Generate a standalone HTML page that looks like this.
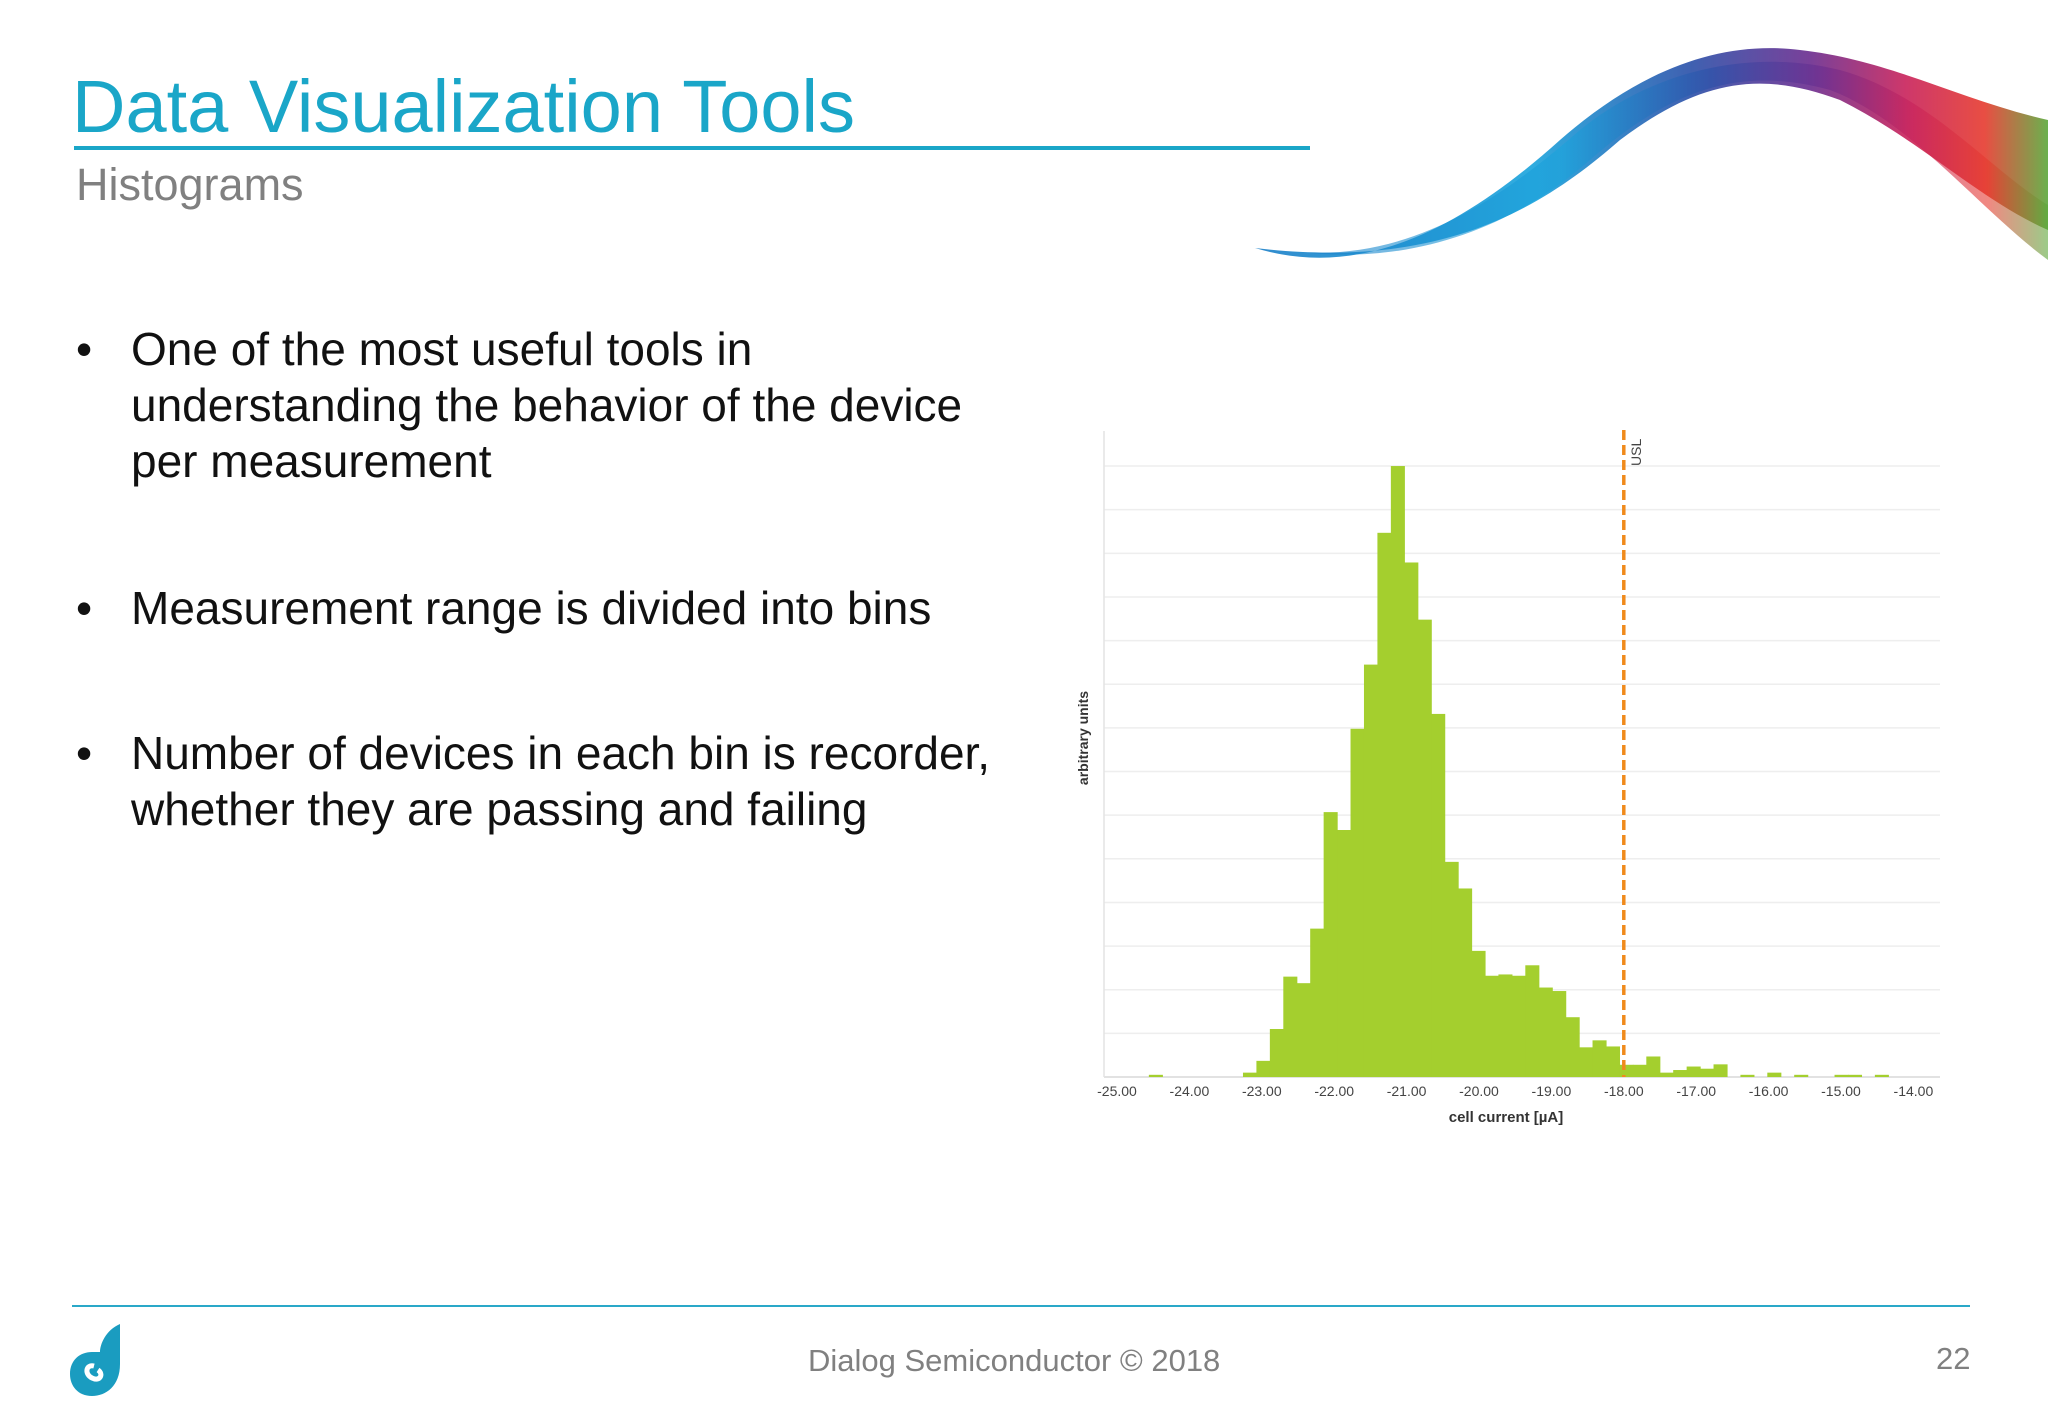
<!DOCTYPE html>
<html><head><meta charset="utf-8"><style>
html,body{margin:0;padding:0;background:#fff;}
body{width:2048px;height:1418px;position:relative;overflow:hidden;font-family:"Liberation Sans",sans-serif;}
.abs{position:absolute;white-space:nowrap;}
.bul{font-size:46px;color:#111;line-height:56px;}
</style></head><body>
<svg class="abs" style="left:1240px;top:30px" width="808" height="240" viewBox="0 0 808 240">
<defs><linearGradient id="rg" x1="0" x2="1" y1="0" y2="0">
<stop offset="0" stop-color="#1a7fc8"/><stop offset="0.35" stop-color="#19a3dc"/><stop offset="0.55" stop-color="#2a4fa8"/><stop offset="0.7" stop-color="#6a2b8e"/><stop offset="0.82" stop-color="#c8215a"/><stop offset="0.92" stop-color="#e63a2e"/><stop offset="1" stop-color="#5aa83a"/></linearGradient></defs>
<path d="M15 218 C120 250 220 200 320 110 C400 40 480 10 560 20 C650 30 720 70 808 90 L808 200 C740 170 680 110 600 70 C520 40 460 50 380 110 C300 180 200 240 15 218 Z" fill="url(#rg)" opacity="0.9"/>
<path d="M60 222 C170 230 260 170 340 100 C420 35 520 20 600 40 C690 65 750 140 808 175 L808 230 C740 180 670 90 590 60 C500 35 430 60 350 130 C270 200 170 235 60 222Z" fill="url(#rg)" opacity="0.6"/>
</svg>
<div class="abs" style="left:72px;top:64px;font-size:74px;color:#1aa6c8;">Data Visualization Tools</div>
<div class="abs" style="left:74px;top:146px;width:1236px;height:4px;background:#1aa6c8;"></div>
<div class="abs" style="left:76px;top:159px;font-size:45px;color:#808080;">Histograms</div>

<div class="abs bul" style="left:76px;top:321px;">•<span style="position:absolute;left:55px;top:0">One of the most useful tools in<br>understanding the behavior of the device<br>per measurement</span></div>
<div class="abs bul" style="left:76px;top:580px;">•<span style="position:absolute;left:55px;top:0">Measurement range is divided into bins</span></div>
<div class="abs bul" style="left:76px;top:725px;">•<span style="position:absolute;left:55px;top:0">Number of devices in each bin is recorder,<br>whether they are passing and failing</span></div>

<svg id="chart" class="abs" style="left:0;top:0" width="2048" height="1418"></svg>

<div class="abs" style="left:72px;top:1305px;width:1898px;height:2px;background:#2aa8c8;"></div>
<svg class="abs" style="left:70px;top:1324px" width="64" height="74" viewBox="0 0 64 74">
<path d="M50 0 L50 40 C50 62 36 72 22 72 C8 72 0 62 0 50 C0 36 10 28 22 28 L30 28 C30 20 36 6 50 0Z" fill="#1a9cc0"/>
<path d="M24 42 C16 40 14 50 22 54 C30 58 34 50 28 46" stroke="#fff" stroke-width="5" fill="none"/>
</svg>
<div class="abs" style="left:808px;top:1343px;font-size:31px;color:#808080;">Dialog Semiconductor © 2018</div>
<div class="abs" style="left:1936px;top:1341px;font-size:31px;color:#808080;">22</div>

<script>
const binStart = -24.56;
const binWidth = 0.1857;
const counts = [0.05,0,0,0,0,0,0,
 0.1,0.37,1.1,2.3,2.15,3.4,6.07,5.66,7.98,9.45,12.47,14.0,11.79,10.48,8.32,4.93,4.32,2.89,2.32,2.35,2.32,2.56,2.05,1.97,1.37,0.68,0.84,0.7,
 0.28,0.28,0.47,0.1,0.16,0.24,0.19,0.29,0,0.05,0,0.1,0,0.05,0,0,0.05,0.05,0,0.05];
const xTicks = [-25,-24,-23,-22,-21,-20,-19,-18,-17,-16,-15,-14];
const xTickLabels = ["-25.00","-24.00","-23.00","-22.00","-21.00","-20.00","-19.00","-18.00","-17.00","-16.00","-15.00","-14.00"];
const yGrid = [0,1,2,3,4,5,6,7,8,9,10,11,12,13,14];
const usl = [-18];

const NS="http://www.w3.org/2000/svg";
const svg=document.getElementById('chart');
const X0=1117, XS=72.4, Y0=1077, YS=43.64;
const xS=v=>X0+(v+25)*XS;
const yS=v=>Y0-v*YS;
function mk(t,a){const e=document.createElementNS(NS,t);for(const k in a)e.setAttribute(k,a[k]);svg.appendChild(e);return e;}
yGrid.forEach(g=>{
 const l=mk('line',{x1:1104,x2:1940,y1:yS(g),y2:yS(g),stroke:g===0?'#d8d8d8':'#eeeeee','stroke-width':1.5});
 
 
});
const ax=mk('line',{x1:1104,x2:1104,y1:431,y2:Y0,stroke:'#e4e4e4','stroke-width':1.5});


counts.forEach((c,i)=>{
 if(c<=0)return;
 const x1=xS(binStart+i*binWidth), x2=xS(binStart+(i+1)*binWidth);
 const r=mk('rect',{x:x1,y:yS(c),width:x2-x1+0.6,height:Y0-yS(c),fill:'#a4cf2e'});
 
 
});
xTicks.forEach((t,i)=>{
 const tx=mk('text',{x:xS(t),y:1096,'font-size':14,fill:'#444','text-anchor':'middle','font-family':'Liberation Sans, sans-serif'});
 tx.textContent=xTickLabels[i];
 
 
});
usl.forEach(u=>{
 const l=mk('line',{x1:xS(u),x2:xS(u),y1:430,y2:Y0,stroke:'#f08a1c','stroke-width':3.5,'stroke-dasharray':'10,5'});
 
 
 const t=mk('text',{x:0,y:0,'font-size':14,fill:'#444',transform:`translate(${xS(u)+17},466) rotate(-90)`,'font-family':'Liberation Sans, sans-serif'});
 t.textContent='USL';
 
 
});
const xt=mk('text',{x:1506,y:1122,'font-size':15,'font-weight':'bold',fill:'#333','text-anchor':'middle','font-family':'Liberation Sans, sans-serif'});
xt.textContent='cell current [µA]';


const yt=mk('text',{x:0,y:0,'font-size':14,'font-weight':'bold',fill:'#333','text-anchor':'middle',transform:'translate(1088,738) rotate(-90)','font-family':'Liberation Sans, sans-serif'});
yt.textContent='arbitrary units';


</script>
</body></html>
